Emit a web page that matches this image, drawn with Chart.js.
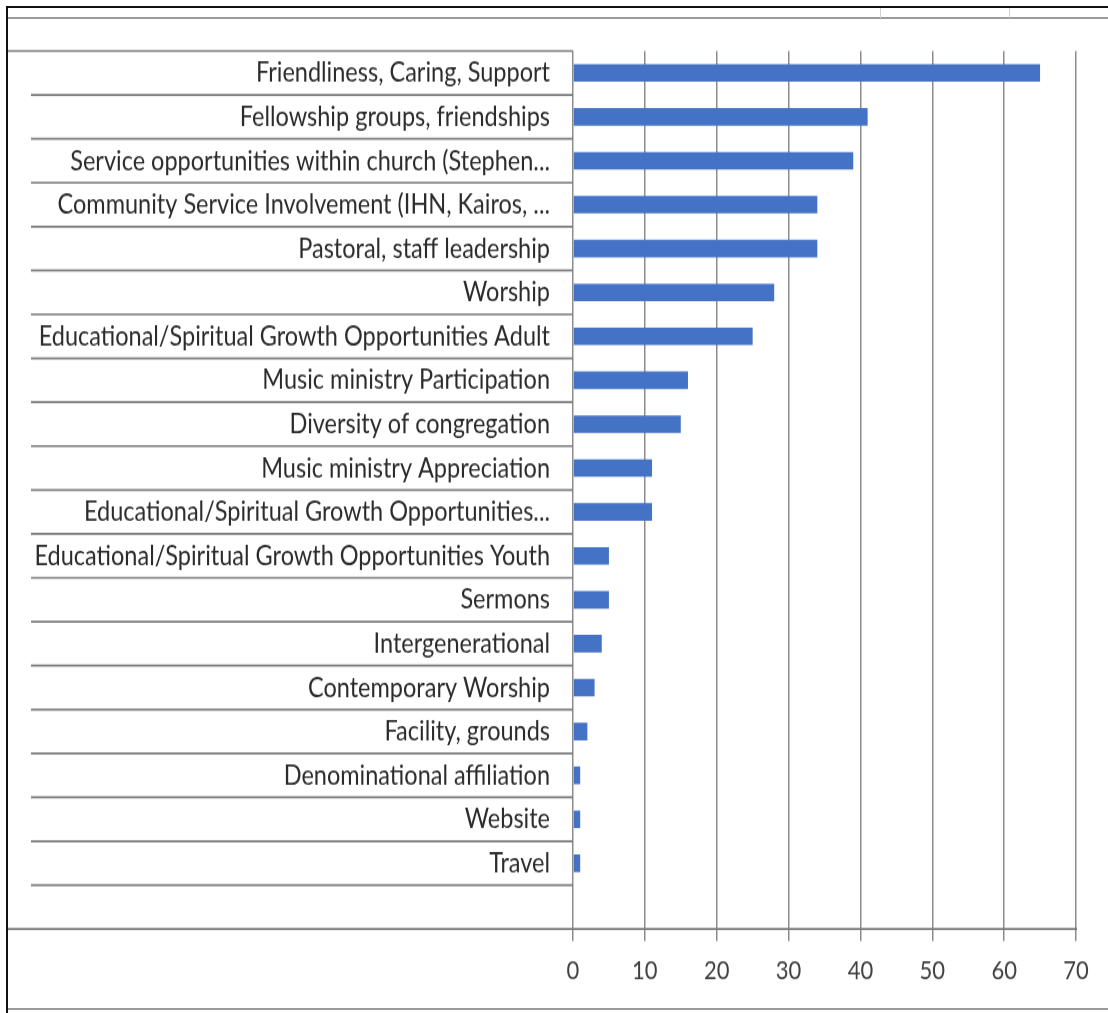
<!DOCTYPE html>
<html lang="en">
<head>
  <meta charset="UTF-8">
  <title>What attracts people to our church</title>
  <script src="https://cdn.jsdelivr.net/npm/chart.js"></script>
  <style>
    html, body { margin: 0; padding: 0; background: #fff; }
    body { width: 1108px; height: 1013px; position: relative; overflow: hidden; font-family: Lato, sans-serif; }
    .rule { position: absolute; }
    #wrap { position: absolute; left: 0; top: 0; width: 1108px; transform-origin: 0 0; }
  </style>
</head>
<body>
<!-- sheet frame around the chart -->
<div class="rule" style="left:6px;top:6px;width:1102px;height:2px;background:#111"></div>
<div class="rule" style="left:6px;top:6px;width:2px;height:1007px;background:#111"></div>
<div class="rule" style="left:8px;top:17px;width:1100px;height:2px;background:#9a9a9a"></div>
<div class="rule" style="left:8px;top:1008px;width:1100px;height:2px;background:#9a9a9a"></div>
<div class="rule" style="left:880px;top:8px;width:1px;height:10px;background:#d0d0d0"></div>
<div class="rule" style="left:1009px;top:8px;width:1px;height:10px;background:#d0d0d0"></div>

<div id="wrap"><canvas id="chart"></canvas></div>

<script>
    // the exported sheet text is tall and narrow, so the whole chart is stretched vertically
    const STRETCH = 1.2;
    const PAGE_H = 1013;

    const categories = [
        'Friendliness, Caring, Support',
        'Fellowship groups, friendships',
        'Service opportunities within church (Stephen...',
        'Community Service Involvement (IHN, Kairos, ...',
        'Pastoral, staff leadership',
        'Worship',
        'Educational/Spiritual Growth Opportunities Adult',
        'Music ministry Participation',
        'Diversity of congregation',
        'Music ministry Appreciation',
        'Educational/Spiritual Growth Opportunities...',
        'Educational/Spiritual Growth Opportunities Youth',
        'Sermons',
        'Intergenerational',
        'Contemporary Worship',
        'Facility, grounds',
        'Denominational affiliation',
        'Website',
        'Travel',
        ''
    ];
    const responses = [65, 41, 39, 34, 34, 28, 25, 16, 15, 11, 11, 5, 5, 4, 3, 2, 1, 1, 1, null];
    const xMin = 0;
    const xMax = 70;
    const xStep = 10;

    const canvasH = PAGE_H / STRETCH;
    const wrap = document.getElementById('wrap');
    wrap.style.height = canvasH + 'px';
    wrap.style.transform = 'scaleY(' + STRETCH + ')';

    const plotTop = 51 / STRETCH;
    const plotBottom = 929 / STRETCH;

    // row separators through the label column; first and last run out to the frame
    const rowLines = {
        id: 'rowLines',
        beforeDatasetsDraw(chart) {
            const { ctx, chartArea, scales: { y } } = chart;
            ctx.save();
            ctx.strokeStyle = '#7a7a7a';
            ctx.lineWidth = 1.7;
            for (let i = 0; i <= categories.length; i++) {
                const py = y.getPixelForValue(i - 0.5);
                const edge = i === 0 || i === categories.length;
                ctx.beginPath();
                ctx.moveTo(edge ? 8 : 31, py);
                ctx.lineTo(i === categories.length ? chartArea.right + 1 : chartArea.left, py);
                ctx.stroke();
            }
            ctx.restore();
        }
    };

    new Chart(document.getElementById('chart'), {
        type: 'bar',
        data: {
            labels: categories,
            datasets: [{
                data: responses,
                backgroundColor: '#4472c4',
                barPercentage: 0.4,
                categoryPercentage: 1
            }]
        },
        plugins: [rowLines],
        options: {
            indexAxis: 'y',
            responsive: true,
            maintainAspectRatio: false,
            animation: false,
            layout: { padding: { top: plotTop, right: 32, left: 0, bottom: 0 } },
            plugins: {
                legend: { display: false },
                tooltip: { enabled: false }
            },
            scales: {
                x: {
                    min: xMin,
                    max: xMax,
                    ticks: {
                        stepSize: xStep,
                        color: '#404040',
                        font: { family: 'Lato', size: 22 },
                        padding: 12
                    },
                    grid: {
                        color: '#8c8c8c',
                        lineWidth: 1.5,
                        tickLength: 10
                    },
                    border: { display: false },
                    afterFit(scale) {
                        scale.height = canvasH - plotBottom;
                    }
                },
                y: {
                    ticks: {
                        color: '#2b2b2b',
                        font: { family: 'Lato', size: 23.5 },
                        padding: 23,
                        autoSkip: false
                    },
                    grid: { display: false, drawTicks: false },
                    border: { display: false },
                    afterFit(scale) {
                        scale.width = 573;
                    }
                }
            }
        }
    });
</script>
</body>
</html>
